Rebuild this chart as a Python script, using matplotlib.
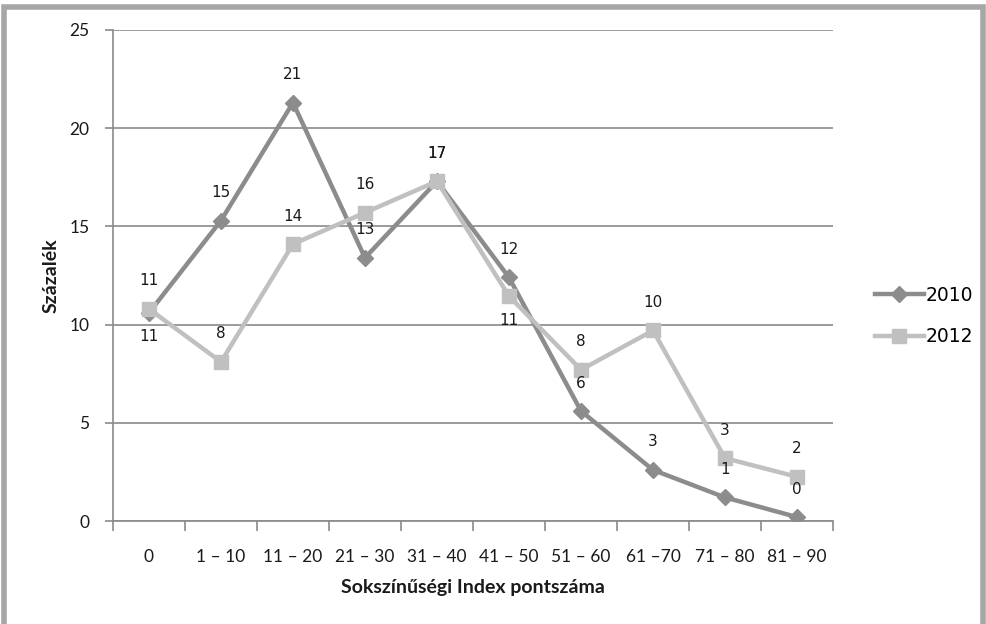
import matplotlib
matplotlib.use("Agg")
import matplotlib.pyplot as plt
from matplotlib.patches import Rectangle
from matplotlib.lines import Line2D

categories = ["0", "1 – 10", "11 – 20", "21 – 30", "31 – 40", "41 – 50",
              "51 – 60", "61 –70", "71 – 80", "81 – 90"]
values_2010 = [10.6, 15.3, 21.3, 13.4, 17.3, 12.4, 5.6, 2.6, 1.2, 0.2]
values_2012 = [10.8, 8.1, 14.1, 15.7, 17.3, 11.45, 7.7, 9.7, 3.2, 2.25]
# label placement: +1 above, -1 below
pos_2010 = [-1, 1, 1, 1, 1, 1, 1, 1, 1, 1]
pos_2012 = [1, 1, 1, 1, 1, -1, 1, 1, 1, 1]

c2010 = "#8c8c8c"
c2012 = "#c0c0c0"
grid_c = "#8a8a8a"
txt_c = "#1a1a1a"

plt.rcParams['font.family'] = ['Lato', 'DejaVu Sans']

fig = plt.figure(figsize=(9.87, 6.24), dpi=100)
fig.patches.append(Rectangle((0.004, -0.02), 0.992, 1.008, transform=fig.transFigure,
                             fill=False, edgecolor="#a6a6a6", linewidth=4))

ax = fig.add_axes([113/987, (624-521)/624, 720/987, 491/624])
x = list(range(len(categories)))

ax.plot(x, values_2010, color=c2010, linewidth=3.2, marker="D", markersize=8,
        label="2010", zorder=3)
ax.plot(x, values_2012, color=c2012, linewidth=3.2, marker="s", markersize=10,
        label="2012", zorder=4)

for xi, v, p in zip(x, values_2010, pos_2010):
    ax.annotate(f"{round(v):d}", (xi, v), textcoords="offset pixels",
                xytext=(0, 28 if p > 0 else -24), ha="center", va="center",
                fontsize=11, family="DejaVu Sans", color=txt_c, zorder=6)
for xi, v, p in zip(x, values_2012, pos_2012):
    ax.annotate(f"{round(v):d}", (xi, v), textcoords="offset pixels",
                xytext=(0, 28 if p > 0 else -24), ha="center", va="center",
                fontsize=11, family="DejaVu Sans", color=txt_c, zorder=6)

ax.set_xlim(-0.5, len(categories) - 0.5)
ax.set_ylim(0, 25)
ax.set_yticks([0, 5, 10, 15, 20, 25])
ax.yaxis.grid(True, color=grid_c, linewidth=1.2)
ax.set_axisbelow(True)

ax.set_xticks([i + 0.5 for i in range(-1, len(categories))])
ax.set_xticklabels([])
ax.set_xticks(x, minor=True)
ax.set_xticklabels(categories, minor=True, fontsize=12.5, color=txt_c)
ax.tick_params(axis="x", which="major", length=7, direction="out", color=grid_c, width=1.2)
ax.tick_params(axis="x", which="minor", length=0, pad=20)
ax.tick_params(axis="y", length=6, direction="out", color=grid_c, width=1.2,
               labelsize=12.5, labelcolor=txt_c, pad=11)

for s in ["top", "right"]:
    ax.spines[s].set_visible(False)
for s in ["left", "bottom"]:
    ax.spines[s].set_color(grid_c)
    ax.spines[s].set_linewidth(1.2)

ax.set_xlabel("Sokszínűségi Index pontszáma", fontsize=14, fontweight="bold",
              labelpad=10, color=txt_c)
ax.set_ylabel("Százalék", fontsize=14, fontweight="bold", labelpad=7, color=txt_c)

handles = [Line2D([], [], color=c2010, linewidth=3.2, marker="D", markersize=8),
           Line2D([], [], color=c2012, linewidth=3.2, marker="s", markersize=10)]
fig.legend(handles, ["2010", "2012"], loc="center left",
           bbox_to_anchor=(858/987, 1 - 316/624), frameon=False,
           prop={"family": "DejaVu Sans", "size": 13.5},
           handlelength=2.6, handletextpad=0.1, labelspacing=1.2)

fig.savefig("out.png", dpi=100)
